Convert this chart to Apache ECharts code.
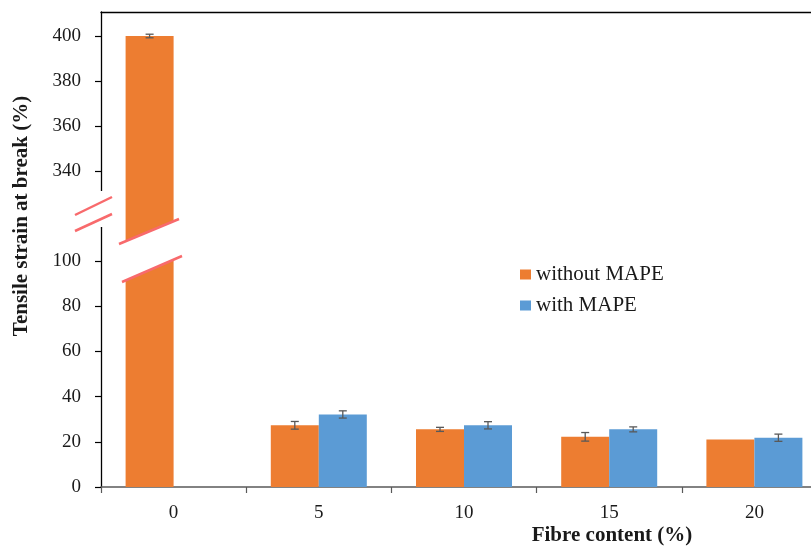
<!DOCTYPE html>
<html>
<head>
<meta charset="utf-8">
<script src="https://cdn.jsdelivr.net/npm/echarts@6/dist/echarts.min.js"></script>
<style>html,body{margin:0;padding:0;background:#fff;}#c{width:811px;height:546px;}</style>
</head>
<body>
<div id="c"></div>
<script>
// ---- data ----
var categories = ['0', '5', '10', '15', '20'];
var withoutMAPE = [400, 27.3, 25.5, 22.2, 21.0];
var withoutMAPEErr = [0.8, 1.7, 0.9, 1.9, 0];
var withMAPE = [null, 32.1, 27.3, 25.5, 21.8];
var withMAPEErr = [0, 1.6, 1.6, 1.1, 1.6];
var lowerTicks = [0, 20, 40, 60, 80, 100];
var upperTicks = [340, 360, 380, 400];
var seriesNames = ['without MAPE', 'with MAPE'];

// ---- layout / style ----
var FONT = '"Liberation Serif", "Times New Roman", serif';
var ORANGE = '#ED7D31', BLUE = '#5B9BD5', RED = '#f86a6c';
var BAR_W = 48;
var LOW_MIN = 0, LOW_MAX = 114.6;
var UP_MIN = 314.67, UP_MAX = 410.67;

function errData(vals, errs) {
  return vals.map(function (v, i) { return [i, v, errs[i]]; });
}
function errRender(offset, yMin, yMax) {
  return function (params, api) {
    var v = api.value(1), e = api.value(2);
    if (v == null || isNaN(v) || !e || v < yMin || v > yMax) return null;
    var t = api.coord([api.value(0), v + e]);
    var b = api.coord([api.value(0), v - e]);
    var x = t[0] + offset;
    var st = { stroke: '#595959', lineWidth: 1.3 };
    return {
      type: 'group',
      children: [
        { type: 'line', shape: { x1: x, y1: t[1], x2: x, y2: b[1] }, style: st },
        { type: 'line', shape: { x1: x - 4, y1: t[1], x2: x + 4, y2: t[1] }, style: st },
        { type: 'line', shape: { x1: x - 4, y1: b[1], x2: x + 4, y2: b[1] }, style: st }
      ]
    };
  };
}

var labelStyle = { fontFamily: FONT, fontSize: 19, color: '#1a1a1a' };

var option = {
  animation: false,
  backgroundColor: '#fff',
  grid: [
    { left: 101, width: 726, top: 12, height: 216, outerBoundsMode: 'none', containLabel: false },
    { left: 101, width: 726, top: 228, height: 259, outerBoundsMode: 'none', containLabel: false }
  ],
  xAxis: [
    { type: 'category', gridIndex: 0, data: categories, position: 'top',
      axisLine: { show: true, lineStyle: { color: '#000', width: 1.3 } },
      axisTick: { show: false }, axisLabel: { show: false }, splitLine: { show: false } },
    { type: 'category', gridIndex: 1, data: categories, position: 'bottom',
      axisLine: { show: true, lineStyle: { color: '#595959', width: 1.5 } },
      axisTick: { show: true, alignWithLabel: false, length: 6, lineStyle: { color: '#595959', width: 1.2 } },
      axisLabel: Object.assign({ margin: 17 }, labelStyle), splitLine: { show: false } }
  ],
  yAxis: [
    { type: 'value', gridIndex: 0, min: UP_MIN, max: UP_MAX,
      axisLine: { show: true, lineStyle: { color: '#000', width: 1.3 } },
      axisTick: { show: true, length: 6, customValues: upperTicks, lineStyle: { color: '#000', width: 1.2 } },
      axisLabel: Object.assign({ margin: 20, customValues: upperTicks }, labelStyle),
      splitLine: { show: false } },
    { type: 'value', gridIndex: 1, min: LOW_MIN, max: LOW_MAX,
      axisLine: { show: true, lineStyle: { color: '#000', width: 1.3 } },
      axisTick: { show: true, length: 6, customValues: lowerTicks, lineStyle: { color: '#000', width: 1.2 } },
      axisLabel: Object.assign({ margin: 20, customValues: lowerTicks }, labelStyle),
      splitLine: { show: false } }
  ],
  legend: {
    data: seriesNames, orient: 'vertical', left: 520, top: 264, padding: 0,
    itemWidth: 11, itemHeight: 10, itemGap: 10, icon: 'rect',
    textStyle: { fontFamily: FONT, fontSize: 21, color: '#1a1a1a', lineHeight: 20 }
  },
  series: [
    { name: seriesNames[0], type: 'bar', xAxisIndex: 1, yAxisIndex: 1, data: withoutMAPE,
      barWidth: BAR_W, barGap: '0%', clip: true, itemStyle: { color: ORANGE } },
    { name: seriesNames[1], type: 'bar', xAxisIndex: 1, yAxisIndex: 1, data: withMAPE,
      barWidth: BAR_W, barGap: '0%', clip: true, itemStyle: { color: BLUE } },
    { name: seriesNames[0], type: 'bar', xAxisIndex: 0, yAxisIndex: 0, data: withoutMAPE,
      barWidth: BAR_W, barGap: '0%', clip: true, itemStyle: { color: ORANGE } },
    { name: seriesNames[1], type: 'bar', xAxisIndex: 0, yAxisIndex: 0, data: withMAPE,
      barWidth: BAR_W, barGap: '0%', clip: true, itemStyle: { color: BLUE } },
    { name: 'errLow0', type: 'custom', xAxisIndex: 1, yAxisIndex: 1, z: 5,
      data: errData(withoutMAPE, withoutMAPEErr), encode: { x: 0, y: 1 },
      renderItem: errRender(-BAR_W / 2, LOW_MIN, LOW_MAX) },
    { name: 'errLow1', type: 'custom', xAxisIndex: 1, yAxisIndex: 1, z: 5,
      data: errData(withMAPE, withMAPEErr), encode: { x: 0, y: 1 },
      renderItem: errRender(BAR_W / 2, LOW_MIN, LOW_MAX) },
    { name: 'errUp0', type: 'custom', xAxisIndex: 0, yAxisIndex: 0, z: 5,
      data: errData(withoutMAPE, withoutMAPEErr), encode: { x: 0, y: 1 },
      renderItem: errRender(-BAR_W / 2, UP_MIN, UP_MAX) }
  ],
  graphic: [
    // axis break gap
    { type: 'rect', shape: { x: 94, y: 191, width: 14, height: 36 }, style: { fill: '#fff' }, z: 100 },
    { type: 'line', shape: { x1: 75, y1: 215, x2: 112, y2: 197 }, style: { stroke: RED, lineWidth: 2.5 }, z: 101 },
    { type: 'line', shape: { x1: 75, y1: 231, x2: 112, y2: 214 }, style: { stroke: RED, lineWidth: 2.5 }, z: 101 },
    // bar break gap
    { type: 'polygon', shape: { points: [[119, 244], [179, 219], [182, 256], [122, 282]] }, style: { fill: '#fff' }, z: 100 },
    { type: 'line', shape: { x1: 119, y1: 244, x2: 179, y2: 219 }, style: { stroke: RED, lineWidth: 2.5 }, z: 101 },
    { type: 'line', shape: { x1: 122, y1: 282, x2: 182, y2: 256 }, style: { stroke: RED, lineWidth: 2.5 }, z: 101 },
    // axis names
    { type: 'text', x: 22, y: 216, rotation: Math.PI / 2, z: 110,
      style: { text: 'Tensile strain at break (%)', font: 'bold 21px ' + FONT, fill: '#1a1a1a', align: 'center', verticalAlign: 'middle' } },
    { type: 'text', x: 612, y: 536, z: 110,
      style: { text: 'Fibre content (%)', font: 'bold 21px ' + FONT, fill: '#1a1a1a', align: 'center', verticalAlign: 'middle' } }
  ]
};

var chart = echarts.init(document.getElementById('c'), null, { renderer: 'canvas' });
chart.setOption(option);
</script>
</body>
</html>
